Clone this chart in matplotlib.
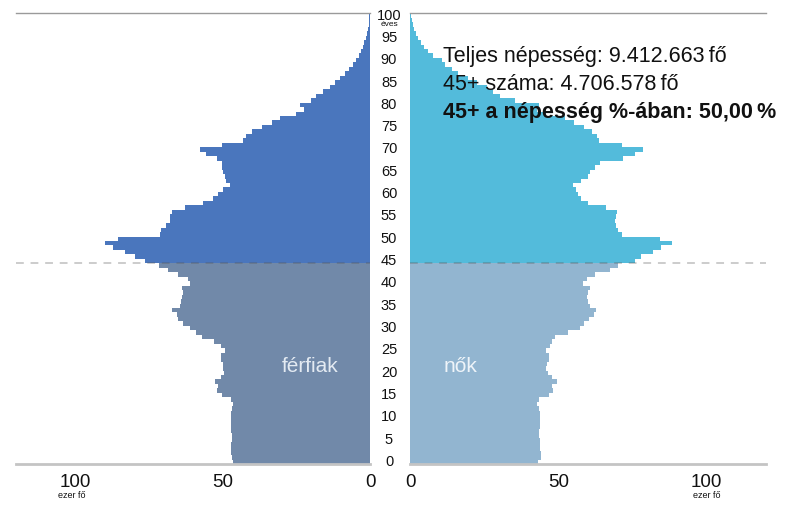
import matplotlib.pyplot as plt
import matplotlib.transforms as mtransforms
import numpy as np

plt.rcParams['font.family'] = ['Liberation Sans', 'DejaVu Sans']

ages = np.arange(0, 101)

# thousand persons by single year of age (0 ... 100)
men = [46.3, 46.8, 47.0, 47.0, 47.0, 46.8, 46.8, 47.0, 47.0, 47.2,
       47.0, 47.0, 46.8, 46.4, 47.0, 50.3, 52.0, 51.5, 52.5, 50.5,
       49.5, 49.8, 50.0, 50.5, 50.5, 49.2, 50.5, 53.0, 57.0, 59.0,
       61.0, 63.4, 65.0, 65.5, 67.2, 64.4, 64.0, 63.8, 63.5, 63.8,
       61.0, 61.7, 65.0, 68.4, 71.5, 76.3, 79.7, 83.0, 87.0, 89.8,
       85.4, 71.2, 71.0, 69.0, 67.8, 67.8, 67.0, 62.7, 56.5, 53.2,
       51.5, 50.0, 47.5, 48.8, 49.2, 50.0, 50.3, 50.3, 52.0, 55.5,
       57.6, 50.3, 43.0, 42.0, 40.0, 36.7, 33.3, 30.5, 25.0, 22.3,
       23.7, 20.0, 18.2, 16.0, 13.7, 12.0, 10.3, 8.6, 7.1, 5.8,
       4.6, 3.7, 3.0, 2.4, 1.9, 1.5, 1.1, 0.8, 0.5, 0.3, 0.2]

women = [43.1, 44.2, 44.1, 43.8, 43.8, 43.8, 43.6, 43.6, 43.8, 43.8,
         43.8, 43.8, 43.6, 42.8, 43.5, 47.0, 48.3, 47.7, 49.4, 47.7,
         46.6, 46.0, 46.2, 46.8, 46.8, 46.0, 47.3, 47.7, 48.8, 53.3,
         57.2, 58.5, 60.3, 62.0, 62.8, 60.6, 60.0, 59.5, 60.0, 60.6,
         58.4, 59.5, 62.3, 67.3, 70.1, 75.8, 78.0, 81.9, 84.7, 88.4,
         84.2, 71.3, 70.1, 69.6, 69.0, 69.6, 69.8, 66.2, 60.0, 57.8,
         56.6, 56.1, 54.8, 57.8, 60.0, 60.6, 62.3, 64.0, 71.8, 76.0,
         78.5, 71.5, 63.6, 63.0, 61.4, 58.6, 55.2, 52.4, 45.6, 42.8,
         43.4, 35.5, 30.5, 28.0, 26.0, 22.6, 19.7, 16.3, 14.0, 11.8,
         10.7, 7.8, 5.9, 4.7, 3.6, 2.7, 1.9, 1.3, 1.0, 0.7, 0.4]

age_ticks = list(range(0, 101, 5))
x_ticks = [0, 50, 100]
info_lines = ['Teljes népesség: 9.412.663\u2009fő',
              '45+ száma: 4.706.578\u2009fő',
              '45+ a népesség %-ában: 50,00\u2009%']

W, H = 793, 505
fig = plt.figure(figsize=(W / 100, H / 100), dpi=100)

bottom = (H - 464.3) / H
height = 451 / H
axL = fig.add_axes([16 / W, bottom, 354 / W, height])
axR = fig.add_axes([410 / W, bottom, 356 / W, height])

men_col = np.where(ages >= 45, '#4a76bd', '#7189a9')
women_col = np.where(ages >= 45, '#53bbdb', '#92b5d0')

axL.barh(ages, men, height=1.0, align='edge', color=men_col, linewidth=0)
axR.barh(ages, women, height=1.0, align='edge', color=women_col, linewidth=0)

axL.set_xlim(120, 0)
axR.set_xlim(0, 120)

for ax in (axL, axR):
    ax.set_ylim(0, 101)
    ax.set_yticks([])
    ax.set_xticks(x_ticks)
    ax.set_xticklabels([str(t) for t in x_ticks], fontsize=13.5)
    ax.tick_params(axis='x', length=0, pad=7, colors='#111111')
    ax.spines['left'].set_visible(False)
    ax.spines['right'].set_visible(False)
    ax.spines['top'].set_color('#9a9a9a')
    ax.spines['top'].set_linewidth(1.0)
    ax.spines['bottom'].set_color('#c4c4c4')
    ax.spines['bottom'].set_linewidth(2.0)
    ax.axhline(45, color='#555555', alpha=0.3, lw=1.4,
               linestyle=(0, (4, 3.5)))

# age labels in the gap between the two halves
tr = mtransforms.blended_transform_factory(fig.transFigure, axL.transData)
for a in age_ticks:
    axL.text(389 / W, a + 0.5, str(a), transform=tr, ha='center',
             va='center', fontsize=10.5, color='#111111', clip_on=False)
axL.text(389 / W, 98.4, 'éves', transform=tr, ha='center', va='center',
         fontsize=6, color='#111111', clip_on=False)

fig.text(72 / W, 1 - 495 / H, 'ezer fő', ha='center', va='center',
         fontsize=6.5, color='#111111')
fig.text(707 / W, 1 - 495 / H, 'ezer fő', ha='center', va='center',
         fontsize=6.5, color='#111111')

fig.text(310 / W, 1 - 372.5 / H, 'férfiak', ha='center', va='baseline',
         fontsize=15, color='#e3eaf2')
fig.text(460 / W, 1 - 372.5 / H, 'nők', ha='center', va='baseline',
         fontsize=15, color='#eef4f9')

for i, (txt, yb) in enumerate(zip(info_lines, [62, 90, 118])):
    fig.text(443 / W, 1 - yb / H, txt, ha='left', va='baseline',
             fontsize=15.5, color='#111111',
             fontweight='bold' if i == 2 else 'normal')

fig.savefig('out.png', dpi=100)
